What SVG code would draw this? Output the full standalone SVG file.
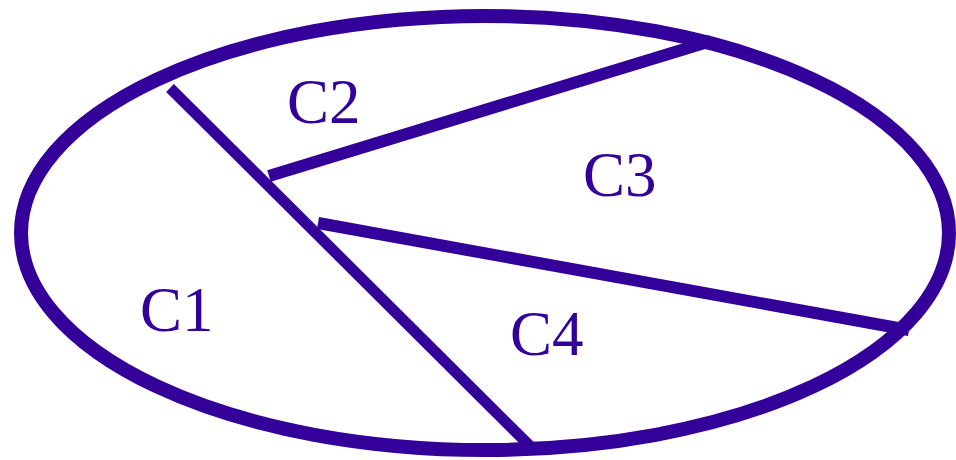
<svg xmlns="http://www.w3.org/2000/svg" width="956" height="460" viewBox="0 0 956 460">
<style>
.s{fill:none;stroke:#330099;stroke-width:12}
.t{font-family:"Liberation Serif","Times New Roman",serif;font-size:63px;fill:#330099}
</style>
<rect width="956" height="460" fill="#fff"/>
<g id="boundary"><ellipse class="s" cx="485" cy="233" rx="464" ry="217" style="stroke-width:14"/></g>
<g id="connectors">
<line class="s" x1="170" y1="88" x2="534" y2="450" style="stroke-width:11"/>
<line class="s" x1="269" y1="176" x2="711" y2="41"/>
<line class="s" x1="318" y1="223" x2="909" y2="330"/>
</g>
<g id="C1"><text class="t" x="140" y="331">C1</text></g>
<g id="C2"><text class="t" x="287" y="123">C2</text></g>
<g id="C3"><text class="t" x="583" y="196">C3</text></g>
<g id="C4"><text class="t" x="510" y="355">C4</text></g>
</svg>
